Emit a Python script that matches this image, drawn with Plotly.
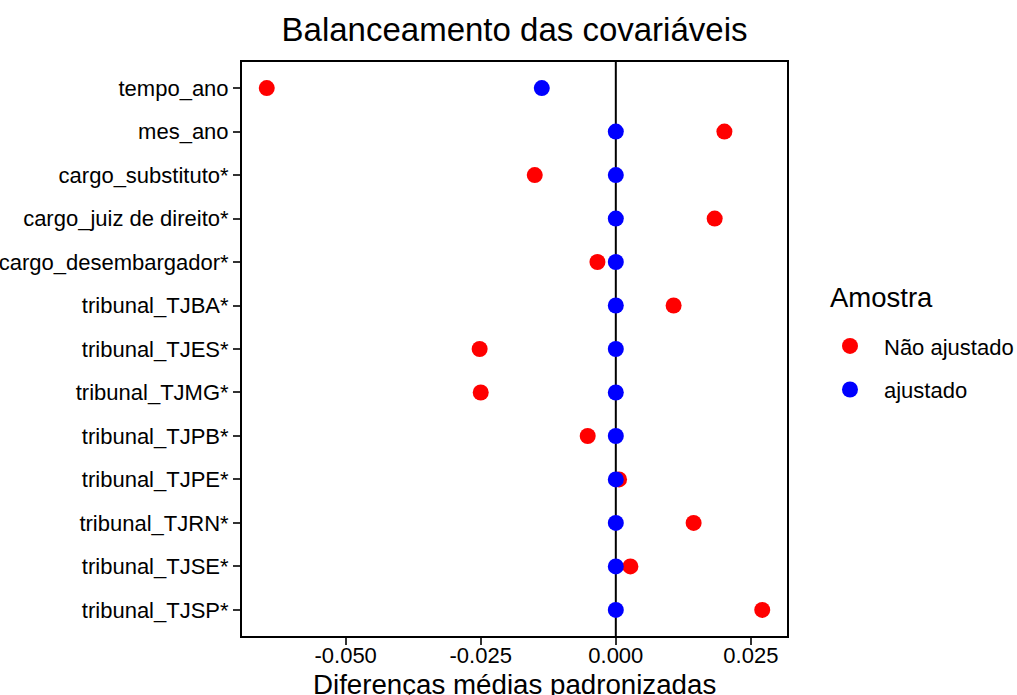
import plotly.graph_objects as go

covariates = [
    "tempo_ano", "mes_ano", "cargo_substituto*", "cargo_juiz de direito*",
    "cargo_desembargador*", "tribunal_TJBA*", "tribunal_TJES*", "tribunal_TJMG*",
    "tribunal_TJPB*", "tribunal_TJPE*", "tribunal_TJRN*", "tribunal_TJSE*",
    "tribunal_TJSP*",
]
nao_ajustado = [-0.0646, 0.0201, -0.0150, 0.0183, -0.0034, 0.0107, -0.0252,
                -0.0250, -0.0052, 0.0006, 0.0144, 0.0027, 0.0271]
ajustado = [-0.0137, 0.0, 0.0, 0.0, 0.0, 0.0, 0.0, 0.0, 0.0, 0.0, 0.0, 0.0, 0.0]
x_ticks = [-0.050, -0.025, 0.000, 0.025]
x_tick_labels = ["-0.050", "-0.025", "0.000", "0.025"]

FONT = "Liberation Sans, Arial, sans-serif"

fig = go.Figure()
fig.add_trace(go.Scatter(
    x=nao_ajustado, y=covariates, mode="markers", name="Não ajustado",
    legendgroup="a", marker=dict(color="#FF0000", size=16, line=dict(width=0)),
))
fig.add_trace(go.Scatter(
    x=ajustado, y=covariates, mode="markers", name="ajustado",
    legendgroup="b", marker=dict(color="#0000FF", size=16, line=dict(width=0)),
))

fig.add_shape(type="line", xref="x", yref="paper", x0=0, x1=0, y0=0, y1=1,
              line=dict(color="black", width=2), layer="below")

fig.add_annotation(text="Amostra", xref="paper", yref="paper",
                   x=1.0753, y=0.589,
                   xanchor="left", yanchor="middle", showarrow=False,
                   font=dict(size=27.5, color="black", family=FONT))

# x-axis title
fig.add_annotation(text="Diferenças médias padronizadas", xref="paper", yref="paper",
                   x=0.5, y=-0.084, xanchor="center", yanchor="middle",
                   showarrow=False,
                   font=dict(size=27.7, color="black", family=FONT))

xmin = min(nao_ajustado + ajustado)
xmax = max(nao_ajustado + ajustado)
pad = (xmax - xmin) * 0.05

fig.update_layout(
    width=1017, height=695,
    margin=dict(l=242, r=230, t=62, b=59, autoexpand=False),
    paper_bgcolor="white", plot_bgcolor="white",
    font=dict(family=FONT, color="black"),
    title=dict(text="Balanceamento das covariáveis", x=0.5, xref="paper",
               xanchor="center", y=1 - 29 / 695, yanchor="middle",
               font=dict(size=33, color="black", family=FONT)),
    showlegend=True,
    legend=dict(
        font=dict(size=22, family=FONT, color="black"),
        x=1.0532, xanchor="left", y=0.5416, yanchor="top",
        traceorder="grouped", tracegroupgap=12, itemwidth=58,
        bgcolor="rgba(0,0,0,0)", itemsizing="trace",
    ),
    xaxis=dict(
        range=[xmin - pad, xmax + pad], tickvals=x_ticks, ticktext=x_tick_labels,
        showgrid=False, zeroline=False, showline=True, mirror=True,
        linecolor="black", linewidth=2, ticks="outside", ticklen=7,
        tickwidth=1.5, tickcolor="#333333", automargin=False,
        ticklabelstandoff=-8,
        tickfont=dict(size=22, color="black", family=FONT),
    ),
    yaxis=dict(
        type="category", categoryorder="array", categoryarray=covariates,
        range=[len(covariates) - 1 + 0.6, -0.6],
        showgrid=False, zeroline=False, showline=True, mirror=True,
        linecolor="black", linewidth=2, ticks="outside", ticklen=7,
        tickwidth=1.5, tickcolor="#333333", automargin=False,
        ticklabelstandoff=0,
        tickfont=dict(size=22, color="black", family=FONT),
    ),
)

fig.write_html(
    "out.html",
    config={"displayModeBar": False},
    post_script="document.body.style.margin='0px';document.body.style.overflow='hidden';",
)
